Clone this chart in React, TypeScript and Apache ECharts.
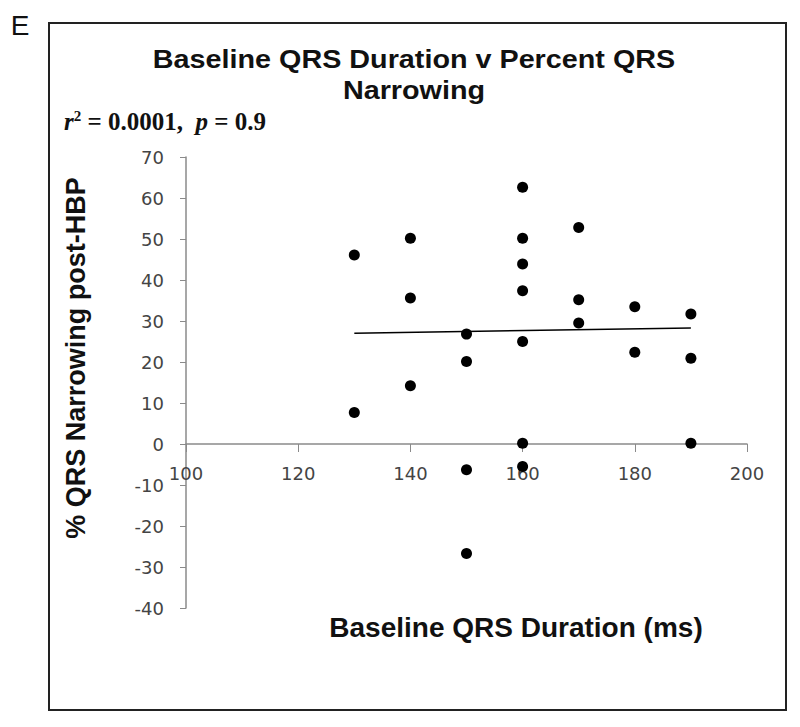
import React, { useEffect, useRef } from "react";
import * as echarts from "echarts";

const baselineQRS = [130, 130, 140, 140, 140, 150, 150, 150, 150, 160, 160, 160, 160, 160, 160, 160, 170, 170, 170, 180, 180, 190, 190, 190];
const pctNarrowing = [46.1, 7.7, 50.2, 35.6, 14.2, 26.8, 20.1, -6.3, -26.7, 62.6, 50.2, 43.9, 37.4, 25.0, 0.2, -5.5, 52.8, 35.2, 29.5, 33.5, 22.4, 31.7, 20.9, 0.2];
const trendX = [130, 190];
const trendY = [27.0, 28.3];

const titleLines = ["Baseline QRS Duration v Percent QRS", "Narrowing"];
const xTitle = "Baseline QRS Duration (ms)";
const yTitle = "% QRS Narrowing post-HBP";
const panelLabel = "E";

export default function App() {
  const ref = useRef<HTMLDivElement>(null);
  useEffect(() => {
    document.body.style.margin = "0";
    const chart = echarts.init(ref.current!, null, { renderer: "svg" });
    const points = baselineQRS.map((x, i) => [x, pctNarrowing[i]]);
    const trend = trendX.map((x, i) => [x, trendY[i]]);
    const tickFont = { fontFamily: "DejaVu Sans", fontSize: 18, color: "#444" };
    const gridTop = 157;
    const gridBottom = 119;
    const plotH = 727 - gridTop - gridBottom;
    const yMin = -40;
    const yMax = 70;
    const zeroOffset = -((0 - yMin) / (yMax - yMin)) * plotH;
    chart.setOption({
      animation: false,
      backgroundColor: "#fff",
      grid: { left: 186, right: 53, top: gridTop, bottom: gridBottom, containLabel: false },
      xAxis: {
        type: "value",
        min: 100,
        max: 200,
        interval: 20,
        offset: zeroOffset,
        axisLine: { show: true, onZero: false, lineStyle: { color: "#8a8a8a", width: 1.5 } },
        axisTick: { show: true, inside: false, length: 8, lineStyle: { color: "#8a8a8a" } },
        axisLabel: { ...tickFont, margin: 20 },
        splitLine: { show: false },
      },
      yAxis: {
        type: "value",
        min: yMin,
        max: yMax,
        interval: 10,
        axisLine: { show: true, onZero: false, lineStyle: { color: "#8a8a8a", width: 1.5 } },
        axisTick: { show: true, inside: false, length: 6, lineStyle: { color: "#8a8a8a" } },
        axisLabel: { ...tickFont, margin: 22 },
        splitLine: { show: false },
      },
      series: [
        {
          type: "scatter",
          data: points,
          symbol: "circle",
          symbolSize: 11,
          itemStyle: { color: "#000", opacity: 1 },
          z: 3,
        },
        {
          type: "line",
          data: trend,
          showSymbol: false,
          symbol: "none",
          lineStyle: { color: "#000", width: 1.5 },
          z: 2,
        },
      ],
      graphic: [
        {
          type: "rect",
          shape: { x: 49, y: 23, width: 737, height: 687 },
          style: { fill: "none", stroke: "#222", lineWidth: 2 },
          silent: true,
        },
        {
          type: "text",
          x: 20,
          y: 25,
          style: { text: panelLabel, font: "28px 'Liberation Sans', Arial", fill: "#111", textAlign: "center", textVerticalAlign: "middle" },
        },
        {
          type: "text",
          x: 414,
          y: 60,
          scaleX: 1.15,
          style: { text: titleLines[0], font: "bold 25px 'Liberation Sans', Arial", fill: "#111", textAlign: "center", textVerticalAlign: "middle" },
        },
        {
          type: "text",
          x: 414,
          y: 91,
          scaleX: 1.15,
          style: { text: titleLines[1], font: "bold 25px 'Liberation Sans', Arial", fill: "#111", textAlign: "center", textVerticalAlign: "middle" },
        },
        {
          type: "text",
          x: 64,
          y: 121,
          style: {
            text: "{i|r}{sup|2}{n| = 0.0001,  }{i|p}{n| = 0.9}",
            textVerticalAlign: "middle",
            rich: {
              i: { fontFamily: "Liberation Serif", fontStyle: "italic", fontWeight: "bold", fontSize: 25, fill: "#111" },
              sup: { fontFamily: "Liberation Serif", fontWeight: "bold", fontSize: 15, fill: "#111", verticalAlign: "top", padding: [0, 0, 10, 0] },
              n: { fontFamily: "Liberation Serif", fontWeight: "bold", fontSize: 25, fill: "#111" },
            },
          },
        },
        {
          type: "text",
          x: 516,
          y: 627,
          style: { text: xTitle, font: "bold 28px 'Liberation Sans', Arial", fill: "#111", textAlign: "center", textVerticalAlign: "middle" },
        },
        {
          type: "text",
          x: 76,
          y: 358,
          rotation: Math.PI / 2,
          style: { text: yTitle, font: "bold 27px 'Liberation Sans', Arial", fill: "#111", textAlign: "center", textVerticalAlign: "middle" },
        },
      ],
    });
    return () => chart.dispose();
  }, []);
  return <div ref={ref} style={{ width: 800, height: 727 }} />;
}
